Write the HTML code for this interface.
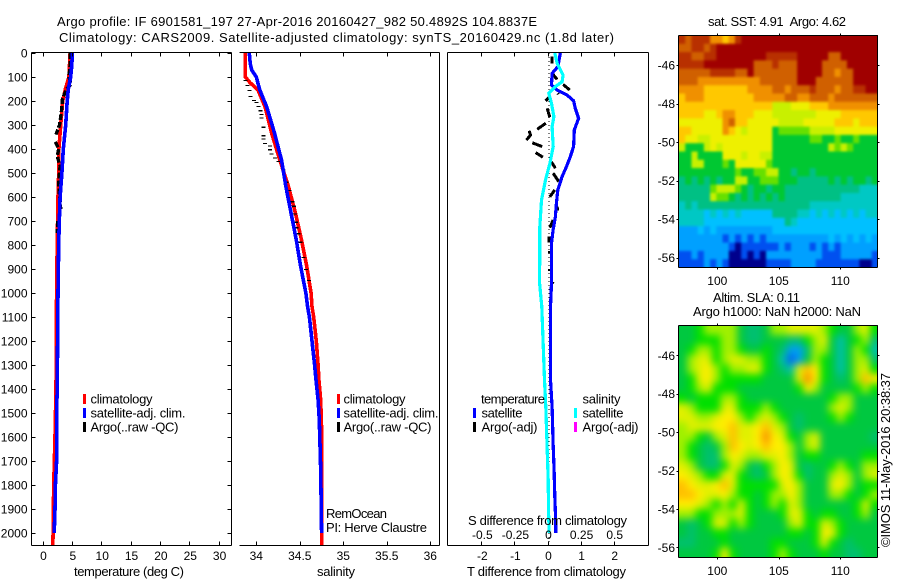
<!DOCTYPE html>
<html>
<head>
<meta charset="utf-8">
<title>Argo profile</title>
<style>
html,body{margin:0;padding:0;background:#fff;}
svg{display:block;}
text{font-family:"Liberation Sans",sans-serif;font-size:12px;fill:#000;}
#static-text text{font-size:13px;}
</style>
</head>
<body>
<svg id="chart" xmlns="http://www.w3.org/2000/svg" width="900" height="580" viewBox="0 0 900 580">
<defs>
<clipPath id="clip-sst"><rect x="679" y="35" width="199" height="232"/></clipPath>
<clipPath id="clip-sla"><rect x="679" y="325" width="199" height="232"/></clipPath>
<filter id="soft" x="-10%" y="-10%" width="120%" height="120%" color-interpolation-filters="sRGB"><feGaussianBlur stdDeviation="4"/></filter>
<filter id="soft-light" x="-10%" y="-10%" width="120%" height="120%" color-interpolation-filters="sRGB"><feGaussianBlur stdDeviation="1.3"/></filter>
</defs>
<g id="marks"></g>
<g id="static-text">
<text x="57" y="26" textLength="480">Argo profile: IF 6901581_197 27-Apr-2016 20160427_982 50.4892S 104.8837E</text>
<text x="59" y="42" textLength="555">Climatology: CARS2009. Satellite-adjusted climatology: synTS_20160429.nc (1.8d later)</text>
<text x="74" y="576" textLength="110">temperature (deg C)</text>
<text x="317" y="576" textLength="38">salinity</text>
<text x="467" y="576" textLength="159">T difference from climatology</text>
<text x="468" y="525" textLength="159">S difference from climatology</text>
<text x="326" y="518" textLength="61">RemOcean</text>
<text x="326" y="532" textLength="101">PI: Herve Claustre</text>
<text x="90.5" y="403.5" textLength="62">climatology</text>
<text x="90.5" y="417.5" textLength="95">satellite-adj. clim.</text>
<text x="90.5" y="431.5" textLength="88">Argo(..raw -QC)</text>
<text x="343.5" y="403.5" textLength="62">climatology</text>
<text x="343.5" y="417.5" textLength="95">satellite-adj. clim.</text>
<text x="343.5" y="431.5" textLength="88">Argo(..raw -QC)</text>
<text x="481" y="403.5" textLength="64">temperature</text>
<text x="481.5" y="417.5" textLength="41">satellite</text>
<text x="481.5" y="431.5" textLength="56">Argo(-adj)</text>
<text x="582.5" y="403.5" textLength="38">salinity</text>
<text x="582.5" y="417.5" textLength="41">satellite</text>
<text x="582.5" y="431.5" textLength="56">Argo(-adj)</text>
<text x="708" y="26" textLength="138">sat. SST: 4.91&#160;&#160;Argo: 4.62</text>
<text x="713" y="302" textLength="87">Altim. SLA: 0.11</text>
<text x="693" y="316" textLength="168">Argo h1000: NaN h2000: NaN</text>
<text transform="translate(890,547) rotate(-90)" textLength="174">©IMOS 11-May-2016 20:38:37</text>
</g>
</svg>
<script>
// ---- Chart data ----
const depthTicks = [0,100,200,300,400,500,600,700,800,900,1000,1100,1200,1300,1400,1500,1600,1700,1800,1900,2000];
const temperatureTicks = [0,5,10,15,20,25,30];
const salinityTicks = [34,34.5,35,35.5,36];
const salinityTickLabels = ['34','34.5','35','35.5','36'];
const tDiffTicks = [-2,-1,0,1,2];
const sDiffTicks = [-0.5,-0.25,0,0.25,0.5];
const sDiffTickLabels = ['-0.5','-0.25','0','0.25','0.5'];
const lonTicks = [100,105,110];
const latTicks = [-46,-48,-50,-52,-54,-56];

const tClimDepth = [0,100,150,200,300,400,500,600,800,1000,1400,1600,1800,2000,2053];
const tClimValue = [4.7,4.5,3.9,3.44,3.1,2.8,2.76,2.64,2.5,2.4,2.3,2.13,1.9,1.8,1.75];
const tSatDepth = [0,50,100,150,200,300,400,500,600,700,800,1000,1400,1500,1700,1800,1900,2000];
const tSatValue = [5.1,5.0,4.8,4.4,4.2,3.95,3.55,3.3,3.0,2.86,2.76,2.64,2.5,2.4,2.4,2.2,2.13,2.0];
const tArgoDepth = [0,50,100,130,150,190,250,300,340,null,370,400,430,470,500,550,650,null,700,750];
const tArgoValue = [4.7,4.7,4.5,4.85,4.1,3.4,3.2,2.9,2.3,null,2.2,2.76,2.5,3.0,2.9,2.76,3.1,null,2.6,2.5];

const sClimDepth = [0,100,124,154,224,335,446,557,668,779,890,1001,1057,1100,1200,1300,1362,1446,1571,2053];
const sClimValue = [33.874,33.874,33.93,34.02,34.1,34.177,34.27,34.37,34.45,34.52,34.58,34.63,34.64,34.66,34.69,34.71,34.72,34.74,34.75,34.75];
const sSatDepth = [0,43,71,100,154,224,335,446,557,668,779,890,1001,1057,1100,1200,1300,1362,1446,1530,1737,2000];
const sSatValue = [33.92,33.93,33.947,34.0,34.04,34.12,34.21,34.29,34.34,34.4,34.46,34.51,34.57,34.59,34.61,34.64,34.67,34.686,34.71,34.724,34.74,34.75];
const sArgoDepth = [112,133,154,179,196,204,221,238,254,268,307,342,356,374,385,401,418,435,449,485,536,571,617,636,668,703,726,751,786,849,899,946];
const sArgoValue = [33.874,33.897,33.92,33.935,33.974,34.004,34.023,34.05,34.062,34.062,34.081,34.081,34.081,34.1,34.157,34.157,34.177,34.215,34.253,34.31,34.349,34.38,34.414,34.433,34.445,34.456,34.464,34.483,34.51,34.54,34.571,34.606];

const dtSatDepth = [0,57,85,133,154,175,199,231,272,321,390,432,474,515,571,626,682,737,793,960,1057,1362,1474,1627,1737,1848,1959,2000];
const dtSatValue = [0.39,0.31,0.14,0.12,0.29,0.59,0.79,0.84,0.94,0.81,0.79,0.69,0.57,0.44,0.31,0.27,0.24,0.17,0.12,0.12,0.09,0.09,0.14,0.17,0.2,0.22,0.25,0.25];
const dsSatDepth = [0,43,92,120,140,168,210,265,307,390,460,529,613,724,960,1057,1362,1474,1640,1779,1918,2001];
const dsSatValue = [0.055,0.073,0.118,0.11,0.06,0.01,0.03,0.048,0.035,0.043,0.018,-0.015,-0.045,-0.058,-0.06,-0.043,-0.023,-0.013,-0.003,0.005,0.008,0.013];
const dtArgoDepth = [15,43,null,85,110,null,131,154,null,168,172,null,182,200,null,231,268,null,293,318,null,324,342,363,null,374,390,null,415,434,null,452,480,null,501,536,null,571,599,null,640,657,null,696,728,null,765,790,null,824,835,null,900,908,null,958,962];
const dtArgoValue = [0.14,0.14,null,0.14,0.29,null,0.47,0.67,null,0.31,0.33,null,0.07,-0.06,null,-0.01,0.07,null,-0.05,-0.31,null,-0.56,-0.51,-0.64,null,-0.46,-0.16,null,-0.36,-0.14,null,0.11,0.24,null,0.17,0.34,null,0.22,0.07,null,0.29,0.31,null,0.17,0.07,null,0.04,0.04,null,0.06,0.06,null,0.06,0.06,null,0.14,0.18];

const sstLevelColors = ['#00008c','#0050f0','#00a0ff','#00c0ff','#00c8c4','#00c084','#00c832','#66e000','#c8f000','#eef000','#ffc800','#f09000','#d06000','#b83000','#a00000'];
const sstGrid = [
[13,12,13,13,13,11,11,10,11,13,14,14,14,14,14,14,14,14,14,14,14,14,14,14,14,14,14,14,14,14,14,14],
[12,12,13,13,12,13,14,14,14,14,14,14,14,14,14,14,14,14,14,14,14,14,14,14,14,14,14,14,14,14,14,14],
[13,13,12,12,13,13,14,14,14,14,14,14,14,14,13,13,13,13,13,14,14,14,14,14,12,12,14,14,14,14,14,14],
[13,13,13,13,14,14,14,14,14,14,14,14,12,12,12,13,12,12,12,14,14,14,14,12,12,12,12,14,14,14,14,14],
[12,12,12,12,12,13,13,13,13,12,12,14,12,12,12,12,12,12,12,14,14,14,14,12,12,11,12,12,14,14,14,14],
[12,12,12,11,11,11,11,11,11,11,11,11,11,12,12,12,12,12,12,14,14,14,12,12,12,12,12,12,14,14,14,14],
[11,11,11,11,10,10,10,10,10,10,10,11,11,11,11,12,12,11,12,12,12,13,12,12,12,11,12,12,13,13,14,14],
[10,11,11,11,10,10,10,10,10,10,10,10,11,11,11,11,11,12,12,11,11,12,12,12,11,12,12,12,12,12,12,12],
[10,10,10,10,10,10,10,10,10,10,10,10,10,10,10,8,8,8,9,9,9,10,10,10,11,11,11,11,11,11,11,11],
[10,10,10,10,9,9,10,11,11,10,10,10,9,9,9,8,8,8,8,8,8,8,9,9,9,9,10,10,10,10,10,10],
[9,9,9,9,9,9,9,11,12,10,10,9,9,9,9,9,8,8,8,8,9,9,9,9,9,10,10,10,9,10,10,10],
[10,10,9,9,9,9,9,11,10,9,8,9,9,9,9,6,7,7,7,7,7,8,8,8,8,9,9,9,9,9,9,9],
[10,9,9,8,8,9,9,9,9,9,9,9,9,9,9,6,6,6,6,6,6,7,7,6,6,7,6,6,7,6,6,6],
[8,6,6,6,8,9,8,9,9,9,9,9,9,9,9,6,6,6,6,6,6,6,6,6,8,7,8,7,6,6,6,6],
[6,6,8,6,6,6,6,9,9,9,8,9,9,8,8,6,6,6,6,6,6,6,6,6,6,6,6,6,6,6,6,6],
[6,6,8,8,6,6,6,7,6,9,9,9,9,9,7,6,6,6,6,6,6,6,6,6,6,6,6,6,6,6,6,6],
[6,6,6,6,6,6,6,6,6,7,6,6,7,7,8,8,6,6,5,6,6,5,6,6,6,6,6,6,6,6,6,6],
[5,6,5,6,5,6,5,6,6,8,8,6,6,7,7,7,6,6,6,5,5,5,5,5,6,5,6,5,6,6,5,6],
[5,5,5,5,5,7,8,8,8,7,6,5,6,6,5,6,6,5,5,5,5,5,5,5,5,5,5,5,5,4,4,4],
[5,5,5,5,5,8,7,7,6,5,6,5,6,5,6,5,6,5,5,5,5,5,5,5,5,5,4,4,4,4,4,4],
[4,5,4,5,5,5,5,5,5,5,5,5,5,5,5,5,5,5,5,5,5,4,4,4,4,4,4,4,4,4,4,4],
[4,4,4,4,3,4,3,4,3,4,3,3,3,3,3,5,5,5,5,4,4,3,4,3,4,3,4,3,4,3,4,4],
[4,4,4,4,3,3,3,3,3,3,3,3,3,3,3,3,3,5,4,3,3,3,3,3,3,3,3,3,3,3,3,3],
[2,2,2,3,2,3,2,2,2,2,2,2,2,2,2,3,3,3,3,3,3,3,3,3,3,3,3,3,3,3,3,3],
[2,2,2,2,2,2,2,1,2,1,2,1,2,1,2,2,2,2,2,2,2,2,2,2,3,2,3,2,3,2,3,2],
[2,2,2,2,2,2,2,2,1,0,1,1,1,1,1,1,2,1,2,2,2,1,2,1,2,1,2,2,2,2,2,2],
[1,1,2,1,2,2,2,2,0,0,1,0,1,0,2,2,2,2,2,2,2,2,2,1,1,1,2,2,2,2,2,1],
[1,1,1,1,2,1,2,1,0,0,0,0,0,0,1,1,1,1,2,2,2,2,1,1,1,1,1,1,1,0,0,1]
];
const slaLevelColors = ['#0060f0','#00a0f0','#00c0b0','#00c070','#00c840','#00e000','#a0f000','#e0f000','#ffee00','#ffc000','#f89000'];
const slaGrid = [
[4,4,5,6,6,6,6,4,3,3,4,6,6,7,7,7,7,6,5,4,4,6,7,5],
[4,4,5,5,5,6,6,4,3,3,4,4,4,3,3,5,6,7,4,2,4,5,6,3],
[4,5,6,6,5,6,6,5,4,4,5,4,3,1,1,3,6,6,4,2,4,6,5,2],
[4,6,7,7,5,6,7,7,6,6,5,4,2,0,1,4,6,5,4,2,4,6,6,3],
[4,6,7,8,6,5,6,6,7,7,5,4,3,2,7,9,8,5,4,2,4,6,7,5],
[4,5,7,8,6,5,5,5,5,5,4,4,4,4,7,10,8,5,4,3,4,6,9,8],
[4,5,6,7,5,5,5,4,4,4,4,4,4,4,5,8,6,4,4,4,4,5,6,5],
[5,4,5,5,5,6,6,5,4,4,4,4,4,4,4,4,4,4,5,6,6,4,4,4],
[7,6,5,5,5,7,7,5,5,5,6,5,4,4,4,4,4,4,6,7,6,4,4,4],
[7,7,6,6,7,8,8,6,5,6,7,6,5,4,3,4,4,4,5,6,5,4,4,4],
[6,7,7,7,8,8,9,7,7,8,9,7,6,4,3,4,4,4,4,4,4,4,4,4],
[6,6,5,4,6,7,9,7,7,8,10,8,7,5,4,6,7,4,4,4,4,4,4,3],
[6,5,4,3,4,6,9,8,7,8,9,8,8,6,4,6,7,4,4,4,4,4,4,4],
[6,5,4,3,3,6,8,7,6,6,7,7,8,6,4,5,5,4,4,4,4,4,5,5],
[7,6,4,3,3,5,7,6,4,3,5,6,8,7,4,3,4,4,5,6,5,4,6,6],
[8,7,6,5,5,7,7,5,4,3,4,6,8,7,5,3,4,4,6,7,6,4,6,7],
[9,8,7,7,8,9,7,5,5,5,5,5,7,8,6,4,4,4,7,8,6,4,5,5],
[9,9,8,7,7,8,6,5,5,4,5,6,6,8,6,4,4,4,6,6,5,4,5,6],
[8,8,7,6,5,6,5,7,5,4,5,6,5,7,6,4,4,4,4,4,4,5,7,5],
[6,6,5,5,6,6,6,7,5,4,4,4,5,7,7,5,4,5,5,4,4,5,6,4],
[4,3,4,5,7,7,5,6,5,4,4,4,4,6,7,5,5,7,6,5,4,4,4,4],
[4,3,4,4,5,5,4,4,4,4,4,4,4,5,5,4,5,8,7,5,4,4,4,4],
[3,3,4,4,4,5,4,4,4,4,4,5,5,4,4,4,5,7,5,4,3,4,4,4],
[4,4,4,4,5,8,5,4,4,4,4,5,6,5,4,4,4,5,4,4,3,3,4,4]
];

// ---- Axis functions ----
const yDepth = d => 53 + d * 0.24;
const xTemp = v => 42.5 + v * 5.87;
const xSal = v => 256.3 + (v - 34) * 87;
const xDT = v => 547.5 + v * 33.1;
const xDS = v => 547.5 + v * 132.4;
const xLon = v => 717.3 + (v - 100) * 12.3;
const yLatSst = v => 65 + (-46 - v) * 19.27;
const yLatSla = v => 355.3 + (-46 - v) * 19.2;

const NS = 'http://www.w3.org/2000/svg';
const marks = document.getElementById('marks');
function mk(tag, attrs, parent) {
  const el = document.createElementNS(NS, tag);
  for (const k in attrs) el.setAttribute(k, attrs[k]);
  (parent || marks).appendChild(el);
  return el;
}
function pathFrom(depths, values, xf) {
  let d = '', pen = false;
  for (let i = 0; i < depths.length; i++) {
    if (depths[i] === null || values[i] === null) { pen = false; continue; }
    d += (pen ? 'L' : 'M') + xf(values[i]).toFixed(1) + ' ' + yDepth(depths[i]).toFixed(1);
    pen = true;
  }
  return d;
}
function series(name, depths, values, xf, color, width, dash) {
  const a = {d: pathFrom(depths, values, xf), fill: 'none', stroke: color, 'stroke-width': width, 'shape-rendering': 'crispEdges'};
  if (dash) a['stroke-dasharray'] = dash;
  const el = mk('path', a);
  
  
}
function frame(name, x0, y0, x1, y1, sides) {
  const a = {fill: 'none', stroke: '#000', 'stroke-width': 1, 'shape-rendering': 'crispEdges'};
  let d = '';
  if (sides.includes('t')) d += `M${x0} ${y0}H${x1}`;
  if (sides.includes('b')) d += `M${x0} ${y1}H${x1}`;
  if (sides.includes('l')) d += `M${x0} ${y0}V${y1}`;
  if (sides.includes('r')) d += `M${x1} ${y0}V${y1}`;
  a.d = d;
  const el = mk('path', a);
  
  
}
function tickPath(name, d) {
  const el = mk('path', {d: d, fill: 'none', stroke: '#000', 'stroke-width': 1, 'shape-rendering': 'crispEdges'});
  
  
}
function label(name, x, y, txt, anchor) {
  const el = mk('text', {x: x, y: y, 'text-anchor': anchor || 'middle'});
  el.textContent = txt;
  
  
}
function swatch(name, x, y, color) {
  const el = mk('rect', {x: x, y: y, width: 3, height: 10, fill: color, 'shape-rendering': 'crispEdges'});
  
  
}
function heatmap(name, grid, colors, left, top, w, h, clipId, filterId) {
  const g = mk('g', {'clip-path': `url(#${clipId})`});
  
  
  const inner = mk('g', {filter: `url(#${filterId})`}, g);
  const rows = grid.length;
  grid.forEach((row, j) => {
    const cw = w / row.length, ch = h / rows;
    row.forEach((v, i) => {
      // edge cells overhang the clip so that the blur does not fade at the borders
      const pad = 14;
      const x = left + i * cw - (i === 0 ? pad : 0);
      const y = top + j * ch - (j === 0 ? pad : 0);
      const cwid = cw + 0.6 + (i === 0 ? pad : 0) + (i === row.length - 1 ? pad : 0);
      const chei = ch + 0.6 + (j === 0 ? pad : 0) + (j === rows - 1 ? pad : 0);
      const c = mk('rect', {x: x.toFixed(2), y: y.toFixed(2), width: cwid.toFixed(2), height: chei.toFixed(2), fill: colors[Math.max(0, Math.min(colors.length - 1, Math.round(v)))]}, inner);
      
      
    });
  });
}

// ---- Panel 1: temperature ----
series('temperature-climatology-line', tClimDepth, tClimValue, xTemp, '#ff0000', 3.6);
series('temperature-argo-line', tArgoDepth, tArgoValue, xTemp, '#000000', 3.4, '6 2');
series('temperature-satellite-line', tSatDepth, tSatValue, xTemp, '#0000ff', 3.6);
frame('temperature-panel-frame', 31.5, 52.5, 231.5, 545.5, 'tblr');
let tk = '';
depthTicks.forEach(d => { const y = Math.round(yDepth(d)) + 0.5; tk += `M31.5 ${y}h4M227.5 ${y}h4`; });
temperatureTicks.forEach(v => { const x = Math.round(xTemp(v)) + 0.5; tk += `M${x} 52.5v4M${x} 545.5v-4`; });
tickPath('temperature-panel-ticks', tk);
depthTicks.forEach(d => label('depth-tick-label', 27.5, yDepth(d) + 4.5, String(d), 'end'));
temperatureTicks.forEach(v => label('temperature-tick-label', xTemp(v) + 1, 560, String(v)));
swatch('legend-climatology-swatch', 83, 394, '#ff0000');
swatch('legend-satellite-swatch', 83, 408, '#0000ff');
swatch('legend-argo-swatch', 83, 422, '#000000');

// ---- Panel 2: salinity ----
series('salinity-climatology-line', sClimDepth, sClimValue, xSal, '#ff0000', 3.6);
sArgoDepth.forEach((d, i) => {
  const r = mk('rect', {x: (xSal(sArgoValue[i]) - 2).toFixed(1), y: yDepth(d).toFixed(1), width: 4, height: 1.2, fill: '#000', 'shape-rendering': 'crispEdges'});
  
  
});
series('salinity-satellite-line', sSatDepth, sSatValue, xSal, '#0000ff', 3.6);
frame('salinity-panel-frame', 239.5, 52.5, 439.5, 545.5, 'tbr');
let sk = '';
salinityTicks.forEach(v => { const x = Math.round(xSal(v)) + 0.5; sk += `M${x} 52.5v4M${x} 545.5v-4`; });
tickPath('salinity-panel-ticks', sk);
salinityTicks.forEach((v, i) => label('salinity-tick-label', xSal(v), 560, salinityTickLabels[i]));
swatch('salinity-legend-climatology-swatch', 337, 394, '#ff0000');
swatch('salinity-legend-satellite-swatch', 337, 408, '#0000ff');
swatch('salinity-legend-argo-swatch', 337, 422, '#000000');

// ---- Panel 3: differences ----
const zero = mk('line', {x1: xDT(0) + 1.5, x2: xDT(0) + 1.5, y1: 53, y2: 545, stroke: '#000', 'stroke-width': 1, 'stroke-dasharray': '1 3', 'shape-rendering': 'crispEdges'});


series('t-difference-argo-line', dtArgoDepth, dtArgoValue, xDT, '#000000', 3);
series('t-difference-satellite-line', dtSatDepth, dtSatValue, xDT, '#0000ff', 3.2);
series('s-difference-satellite-line', dsSatDepth, dsSatValue, xDS, '#00ffff', 3.2);
frame('difference-panel-frame', 447.5, 52.5, 648.5, 545.5, 'tblr');
let dk = '';
tDiffTicks.forEach(v => { const x = Math.round(xDT(v)) + 0.5; dk += `M${x} 52.5v4M${x} 545.5v-4`; });
tickPath('difference-panel-ticks', dk);
tDiffTicks.forEach(v => label('t-difference-tick-label', xDT(v) + 1, 560, String(v)));
sDiffTicks.forEach((v, i) => label('s-difference-tick-label', xDS(v) + 1, 539, sDiffTickLabels[i]));
swatch('diff-legend-temperature-satellite-swatch', 473, 408, '#0000ff');
swatch('diff-legend-temperature-argo-swatch', 473, 422, '#000000');
swatch('diff-legend-salinity-satellite-swatch', 574, 408, '#00ffff');
swatch('diff-legend-salinity-argo-swatch', 574, 422, '#ff00ff');

// ---- Maps ----
heatmap('sst-heatmap', sstGrid, sstLevelColors, 679, 35.5, 199, 232, 'clip-sst', 'soft-light');
heatmap('sla-heatmap', slaGrid, slaLevelColors, 679, 325.5, 199, 232, 'clip-sla', 'soft');
frame('sst-map-frame', 678.5, 35.5, 877.5, 267.5, 'tblr');
frame('sla-map-frame', 678.5, 325.5, 877.5, 557.5, 'tblr');
let mk1 = '', mk2 = '';
lonTicks.forEach(v => {
  const x = Math.round(xLon(v)) + 0.5;
  mk1 += `M${x} 35.5v-2M${x} 267.5v2`;
  mk2 += `M${x} 325.5v-2M${x} 557.5v2`;
});
latTicks.forEach(v => {
  const y1 = Math.round(yLatSst(v)) + 0.5, y2 = Math.round(yLatSla(v)) + 0.5;
  mk1 += `M877.5 ${y1}h2M678.5 ${y1}h-2`;
  mk2 += `M877.5 ${y2}h2M678.5 ${y2}h-2`;
});
tickPath('sst-map-ticks', mk1);
tickPath('sla-map-ticks', mk2);
lonTicks.forEach(v => {
  label('sst-longitude-tick-label', xLon(v), 285, String(v));
  label('sla-longitude-tick-label', xLon(v), 575, String(v));
});
latTicks.forEach(v => {
  label('sst-latitude-tick-label', 675, yLatSst(v) + 4.5, String(v), 'end');
  label('sla-latitude-tick-label', 675, yLatSla(v) + 4.5, String(v), 'end');
});
</script>
</body>
</html>
